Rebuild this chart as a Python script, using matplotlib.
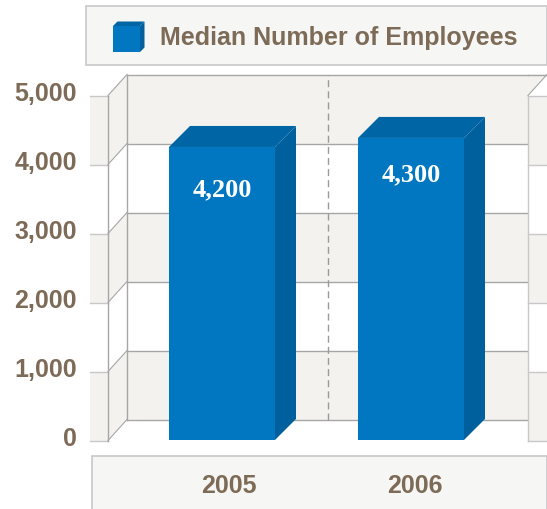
import matplotlib
matplotlib.use('Agg')
import matplotlib.pyplot as plt
from matplotlib.patches import Polygon, Rectangle

years = ['2005', '2006']
labels = ['4,200', '4,300']
# bar heights as drawn against the axis (they sit a bit above the printed labels)
bar_heights = [4254, 4385]
y_ticks = [0, 1000, 2000, 3000, 4000, 5000]
y_tick_labels = ['0', '1,000', '2,000', '3,000', '4,000', '5,000']
legend_label = 'Median Number of Employees'

TAN = '#7d6b57'
FRONT = '#0077c0'
SIDE = '#00609e'
TOP = '#0065a4'
BAND = '#f3f2ef'
BOX = '#f6f6f4'
BOX_EDGE = '#c8c8c8'
GRID = '#a6a6a6'

W, H = 547, 510
Y0 = 441.5        # pixel row of value 0
PER_1000 = 69     # pixels for 1000


def val(py):
    """pixel row to axis value"""
    return (Y0 - py) / PER_1000 * 1000


fig = plt.figure(figsize=(W / 100, H / 100), dpi=100)
ax = fig.add_axes([0, 0, 1, 1])
ax.set_xlim(0, W)
ax.set_ylim(val(H), val(0))
ax.axis('off')

DX = 19
DY = 21 / PER_1000 * 1000
LEFT, RIGHT = 108, 528
TAB = 90

# walls
for lo, hi in zip(y_ticks[:-1], y_ticks[1:]):
    grey = lo % 2000 == 0
    col = BAND if grey else 'white'
    ax.add_patch(Rectangle((LEFT + DX, lo + DY), RIGHT - LEFT - DX, hi - lo, fc=col, ec='none', zorder=1))
    ax.add_patch(Polygon([(LEFT, lo), (LEFT + DX, lo + DY), (LEFT + DX, hi + DY), (LEFT, hi)], fc=col, ec='none', zorder=1))
    ax.add_patch(Rectangle((TAB, lo), LEFT - TAB, hi - lo, fc=col, ec='none', zorder=1))
ax.add_patch(Polygon([(RIGHT, 5000), (RIGHT + DX, 5000 + DY), (RIGHT, 5000 + DY)], fc=BAND, ec='none', zorder=1))

for t in y_ticks:
    ax.plot([TAB, LEFT], [t, t], color=BOX_EDGE, lw=1, zorder=2)
    ax.plot([LEFT, LEFT + DX], [t, t + DY], color=GRID, lw=0.8, zorder=2)
    ax.plot([LEFT + DX, RIGHT], [t + DY, t + DY], color=GRID, lw=1, zorder=2)
ax.plot([RIGHT, W], [5000 + DY, 5000 + DY], color=GRID, lw=1, zorder=2)
ax.plot([LEFT, LEFT], [0, 5000], color=GRID, lw=1, zorder=2)
ax.plot([LEFT + DX, LEFT + DX], [DY, 5000 + DY], color=GRID, lw=1, zorder=2)

# dashed divider between the categories
ax.plot([328, 328], [DY, 5000 + DY], color='#9a9a9a', lw=1, dashes=(5, 3), zorder=2)

# right hand panel
for lo, hi in zip(y_ticks[:-1], y_ticks[1:]):
    col = BAND if lo % 2000 == 0 else 'white'
    ax.add_patch(Rectangle((RIGHT, lo), W - RIGHT, hi - lo, fc=col, ec='none', zorder=3))
for t in y_ticks:
    ax.plot([RIGHT, W], [t, t], color=BOX_EDGE, lw=1, zorder=4)
ax.plot([RIGHT, RIGHT], [0, 5000], color=BOX_EDGE, lw=1, zorder=4)
ax.plot([RIGHT, RIGHT + DX], [5000, 5000 + DY], color=GRID, lw=0.8, zorder=4)

# bars
centers = [222, 411]
label_y = [3653, 3870]
BAR_W = 106
BAR_DX = 21
BASE = 8
for c, h, lab, ly in zip(centers, bar_heights, labels, label_y):
    l, r = c - BAR_W / 2, c + BAR_W / 2
    ax.bar(c, h - BASE, bottom=BASE, width=BAR_W, color=FRONT, zorder=5)
    ax.add_patch(Polygon([(r, BASE), (r + BAR_DX, BASE + DY), (r + BAR_DX, h + DY), (r, h)], fc=SIDE, ec='none', zorder=5))
    ax.add_patch(Polygon([(l, h), (l + BAR_DX, h + DY), (r + BAR_DX, h + DY), (r, h)], fc=TOP, ec='none', zorder=5))
    ax.text(c, ly, lab, color='white', ha='center', va='center', fontsize=19,
            family='Liberation Serif', weight='bold', zorder=6)

# tick labels
for t, lab in zip(y_ticks, y_tick_labels):
    ax.text(77, t + 30, lab, color=TAN, ha='right', va='center', fontsize=18,
            family='Liberation Sans', weight='bold', zorder=6)

# legend box
ax.add_patch(Rectangle((85.5, val(65.5)), W - 86, val(7.5) - val(65.5), fc=BOX, ec=BOX_EDGE, lw=1.2, zorder=3))
sx0, sx1, s_d = 113, 140, 4.5
sb, st = val(53), val(27)
sd = s_d / PER_1000 * 1000
ax.add_patch(Rectangle((sx0, sb), sx1 - sx0, st - sb, fc=FRONT, ec='none', zorder=5))
ax.add_patch(Polygon([(sx1, sb), (sx1 + s_d, sb + sd), (sx1 + s_d, st + sd), (sx1, st)], fc=SIDE, ec='none', zorder=5))
ax.add_patch(Polygon([(sx0, st), (sx0 + s_d, st + sd), (sx1 + s_d, st + sd), (sx1, st)], fc=TOP, ec='none', zorder=5))
ax.text(160, val(38), legend_label, color=TAN, ha='left', va='center', fontsize=18,
        family='Liberation Sans', weight='bold', zorder=6)

# category box
ax.add_patch(Rectangle((91.5, val(H + 5)), W - 92, val(456.5) - val(H + 5), fc=BOX, ec=BOX_EDGE, lw=1.2, zorder=3))
for x, y in zip([229, 415], years):
    ax.text(x, val(486.5), y, color=TAN, ha='center', va='center', fontsize=18,
            family='Liberation Sans', weight='bold', zorder=6)

fig.savefig('out.png', dpi=100)
